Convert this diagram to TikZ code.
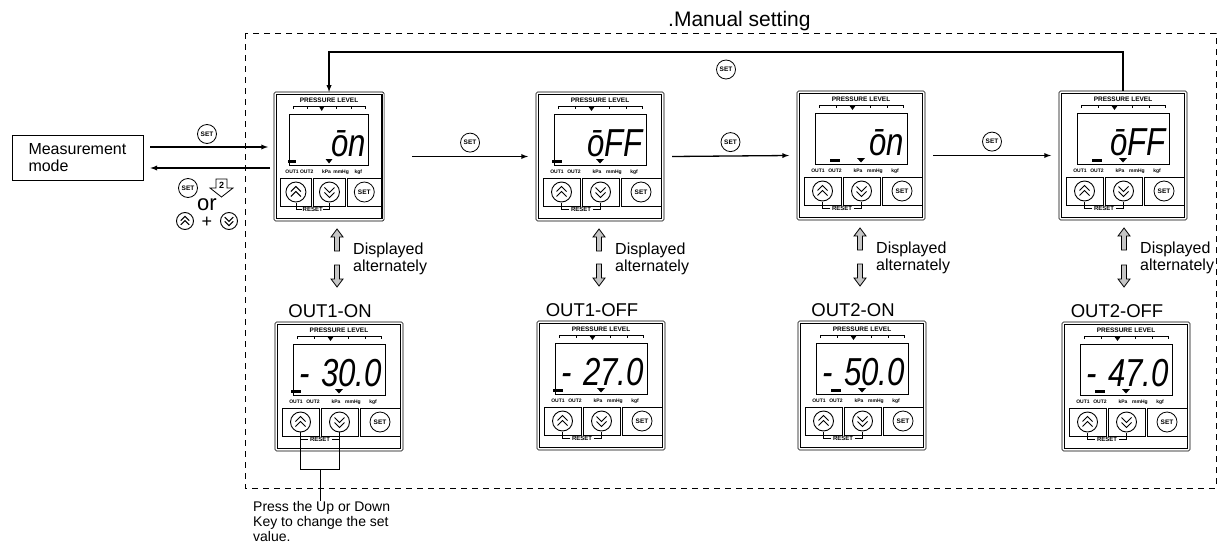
\documentclass[tikz,border=0pt]{standalone}
\usepackage{fontspec}
\setmainfont{Liberation Sans}
\usepackage{graphicx}
\usetikzlibrary{calc,positioning}

\tikzset{
  flow/.style={line width=1.3pt,-latex},
  setkey/.style={draw,circle,line width=0.8pt,minimum size=19pt,inner sep=0pt,
    font=\fontsize{6.5}{6.5}\selectfont\bfseries},
  paneltext/.style={inner sep=0pt,font=\fontsize{#1}{#1}\selectfont\bfseries},
  paneltext/.default=5,
  lcd/.style={inner sep=0pt,font=\fontsize{39}{39}\selectfont\itshape},
  state/.style={inner sep=0pt,font=\fontsize{18.5}{18.5}\selectfont},
  alttext/.style={inner sep=0pt,align=left,font=\fontsize{16}{17}\selectfont},
  pics/upkey/.style={code={
    \draw[line width=0.9pt] (0,0) circle (10pt);
    \draw[line width=1pt] (-5,-0.5) -- (0,-5.5) -- (5,-0.5) (-5,4.5) -- (0,-0.5) -- (5,4.5);
  }},
  pics/downkey/.style={code={
    \draw[line width=0.9pt] (0,0) circle (10pt);
    \draw[line width=1pt] (-5,0.5) -- (0,5.5) -- (5,0.5) (-5,-4.5) -- (0,0.5) -- (5,-4.5);
  }},
  pics/altup/.style={code={
    \filldraw[fill=gray!45,line width=0.8pt] (0,0) -- (6,8) -- (2.5,8) -- (2.5,22)
      -- (-2.5,22) -- (-2.5,8) -- (-6,8) -- cycle;
  }},
  pics/altdown/.style={code={
    \filldraw[fill=gray!45,line width=0.8pt] (0,0) -- (6,-8) -- (2.5,-8) -- (2.5,-22)
      -- (-2.5,-22) -- (-2.5,-8) -- (-6,-8) -- cycle;
  }},
  % #1 = display, #2 = x of the OUT lamp
  pics/panel/.style n args={2}{code={
    \draw[line width=0.6pt,rounded corners=1.5pt] (0,0) rectangle (128,129);
    \draw[line width=1.2pt] (2.5,2.5) rectangle (125.5,126.5);
    \node[paneltext=6.5] (-lvl) at (64,8) {PRESSURE LEVEL};
    \draw[line width=0.7pt] (22,17) -- (22,14) -- (106,14) -- (106,17);
    \foreach \t in {39,73,90} \draw[line width=0.7pt] (\t,14) -- (\t,16.5);
    \fill (52,14) -- (59,14) -- (55.5,19) -- cycle;
    \draw[line width=0.8pt] (18,22) rectangle (110,73);
    \node[lcd,anchor=base east] (-lcd) at (107,64) {\scalebox{0.8}[1]{#1}};
    \fill (#2-5,67.5) rectangle (#2+5,70.5);
    \fill (60,67) -- (68,67) -- (64,71.5) -- cycle;
    \foreach \u/\x in {OUT1/21,OUT2/38,kPa/61,mmHg/78,kgf/98}
      \node[paneltext] (-\u) at (\x,80) {\u};
    \draw[line width=0.7pt] (7,86) rectangle (44,114) (46,86) rectangle (83,114)
      (85,86) rectangle (125,114);
    \pic at (25.5,100) {upkey};
    \pic at (64.5,100) {downkey};
    \node[setkey,minimum size=20pt] (-set) at (105,100) {SET};
    \draw[line width=0.7pt] (25.5,111) -- (25.5,117) -- (33,117) (57,117) -- (64.5,117) -- (64.5,111);
    \node[paneltext=6] (-reset) at (45,117) {RESET};
    \coordinate (-n) at (64,0);
    \coordinate (-s) at (64,129);
    \coordinate (-w) at (0,64.5);
    \coordinate (-e) at (128,64.5);
    \coordinate (-up) at (25.5,110);
    \coordinate (-dn) at (64.5,110);
  }}
}

\begin{document}
\begin{tikzpicture}[x=1pt,y=-1pt]
  \useasboundingbox (0,0) rectangle (1225,546);

  % manual setting frame
  \draw[line width=0.8pt,dash pattern=on 6pt off 5pt] (245,33) rectangle (1216,488);
  \node[anchor=base west,inner sep=0pt,font=\fontsize{21}{21}\selectfont] (title) at (668,26) {.Manual setting};

  % panels
  \pic[xscale=0.86] (p1) at (274,92) {panel={ōn}{21}};
  \pic (p2) at (536,92) {panel={ōFF}{21}};
  \pic (p3) at (797,91) {panel={ōn}{38}};
  \pic (p4) at (1059,91) {panel={ōFF}{38}};
  \pic (q1) at (275,322) {panel={-\hspace{14pt}30.0}{21}};
  \pic (q2) at (537,321) {panel={-\hspace{14pt}27.0}{21}};
  \pic (q3) at (798,321) {panel={-\hspace{14pt}50.0}{38}};
  \pic (q4) at (1062,322) {panel={-\hspace{14pt}47.0}{38}};

  \foreach \i/\t in {1/OUT1-ON,2/OUT1-OFF,3/OUT2-ON,4/OUT2-OFF}
    \node[state,anchor=base] (lab\i) at ($(q\i-n)+(-9,-5)$) {\t};

  % displayed alternately
  \foreach \i in {1,...,4} {
    \coordinate (a\i) at ($(p\i-s -| q\i-n)+(-2,0)$);
    \pic at ($(a\i)+(0,8)$) {altup};
    \pic at ($(q\i-n)+(-2,-35)$) {altdown};
    \node[alttext,anchor=west] (alt\i) at ($(a\i)+(16,38)$) {Displayed\\alternately};
  }

  % SET steps
  \foreach \a/\b/\g in {p1/p2/28,p2/p3/8,p3/p4/8} {
    \draw[flow] ($(\a-e)+(\g,0)$) coordinate (\a-out) -- ($(\b-w)+(-8,0)$) coordinate (\b-in);
    \node[setkey,above=4pt] (set-\a) at ($(\a-out)!.5!(\b-in)$) {SET};
  }
  \draw[line width=1.4pt,-latex] (p4-n) -- ++(0,-39) -| (p1-n);
  \node[setkey] (sback) at ($(p1-n)!.5!(p4-n)+(0,-22)$) {SET};

  % measurement mode
  \node[draw,line width=0.7pt,minimum width=131pt,minimum height=45pt,text width=98pt,
    inner xsep=16.5pt,align=left,font=\fontsize{16}{17}\selectfont] (meas) at (77.5,157.5) {Measurement\\mode};
  \draw[flow] ($(meas.east)+(7,-10.5)$) -- ($(meas.east -| p1-w)+(-6,-10.5)$);
  \draw[flow] ($(meas.east -| p1-w)+(-4,10.5)$) -- ($(meas.east)+(7,10.5)$);
  \node[setkey] (sin) at (207,134) {SET};
  \node[setkey] (sout) at (188,188) {SET};
  \draw[line width=0.8pt] (216,179) -- (227,179) -- (227,188) -- (233,188) -- (221.5,197)
    -- (210,188) -- (216,188) -- cycle;
  \node[paneltext=9] (two) at (221.5,185) {2};
  \node[inner sep=0pt,font=\fontsize{22}{22}\selectfont] (or) at (207,205) {or};
  \pic[scale=0.85] at (185,221) {upkey};
  \node[inner sep=0pt,font=\fontsize{18}{18}\selectfont] (plus) at (207,222) {+};
  \pic[scale=0.85] at (229,221) {downkey};

  % key note
  \node[anchor=north west,align=left,inner sep=0pt,font=\fontsize{14}{15}\selectfont] (note)
    at (253,501) {Press the Up or Down\\Key to change the set\\value.};
  \draw[line width=0.7pt] (q1-up) -- ++(0,37) -| (q1-dn);
  \coordinate (brk) at ($(q1-up)!.5!(q1-dn)+(0,37)$);
  \draw[line width=0.7pt] (brk) -- (brk |- note.north);
\end{tikzpicture}
\end{document}
